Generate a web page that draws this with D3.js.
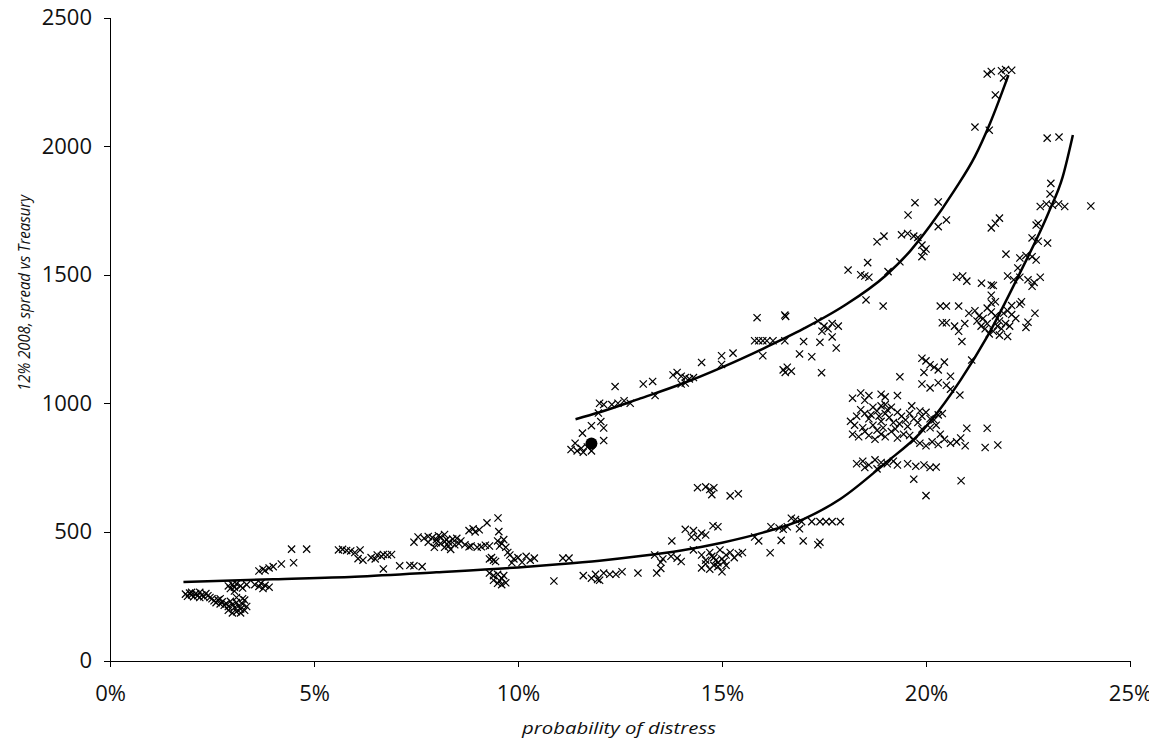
<!DOCTYPE html>
<html>
<head>
<meta charset="utf-8">
<script src="https://cdn.jsdelivr.net/npm/d3@7"></script>
<style>
  body { margin: 0; background: #fff; }
  .axis text { font-family: "Open Sans", "DejaVu Sans", sans-serif; font-size: 22px; fill: #111; }
  .axis path, .axis line { stroke: #000; stroke-width: 1px; shape-rendering: crispEdges; }
  .title { font-family: "Open Sans", "DejaVu Sans", sans-serif; font-style: italic; font-size: 17px; fill: #111; }
</style>
</head>
<body>
<div id="chart"></div>
<script>
// tick labels
var xTicks = [0, 5, 10, 15, 20, 25];
var yTicks = [0, 500, 1000, 1500, 2000, 2500];

// observations: [probability of distress (%), spread (bp)]
var points = [
  // ~2%
  [1.85,258],[1.9,250],[1.95,262],[2.0,255],[2.05,248],[2.1,260],[2.15,252],[2.2,265],[2.25,255],[2.3,248],
  [2.35,260],[2.4,252],[2.45,245],[2.0,265],[2.2,245],
  [2.5,240],[2.55,232],[2.6,225],[2.65,235],[2.7,220],[2.75,228],[2.8,215],[2.85,222],[2.9,210],[2.95,230],
  [3.0,218],[3.05,205],[3.1,225],[3.15,212],[3.2,200],[3.25,220],[3.3,235],[2.9,195],[3.0,185],[3.1,190],
  [3.2,185],[3.3,195],[3.35,210],[2.7,240],[3.1,245],[3.25,240],
  [2.9,290],[2.95,280],[3.0,295],[3.05,285],[3.1,298],[3.2,290],[3.25,282],[3.35,295],[3.05,270],
  [3.55,295],[3.65,288],[3.7,300],[3.8,292],[3.9,285],[3.75,280],
  [3.65,348],[3.75,355],[3.8,350],[3.9,360],[4.0,365],[4.2,375],[4.5,380],[4.45,433],[4.82,433],
  // 5-8%
  [5.6,430],[5.7,432],[5.8,428],[5.9,426],[6.0,420],[6.08,396],[6.2,390],[6.13,430],
  [6.4,400],[6.5,395],[6.55,410],[6.65,405],[6.7,412],[6.8,410],[6.9,412],[6.7,356],[7.1,368],[7.35,370],
  [7.45,368],[7.65,365],
  [7.45,460],[7.55,480],[7.7,475],[7.8,482],[7.9,478],[8.0,470],[8.05,485],[8.1,480],[8.2,490],[8.25,470],
  [8.3,460],[8.4,472],[8.5,475],[8.1,455],[8.2,462],[8.3,445],[8.45,450],[8.55,455],[7.95,440],[8.2,440],
  [8.35,432],[8.0,458],[7.8,460],[8.6,465],
  // 9-11%
  [8.7,450],[8.8,442],[8.85,445],[9.0,440],[9.1,442],[9.2,448],[9.3,445],[8.8,505],[8.9,512],[8.95,500],
  [9.05,508],[9.24,535],[9.51,554],[9.53,501],
  [9.5,465],[9.6,455],[9.65,470],[9.7,440],[9.55,445],
  [9.3,395],[9.4,390],[9.45,385],[9.35,400],
  [9.8,410],[9.9,395],[10.0,400],[10.2,405],[10.3,390],[9.85,380],[10.1,382],[10.4,398],[9.75,420],
  [9.3,340],[9.4,330],[9.5,335],[9.6,320],[9.5,300],[9.6,295],[9.7,302],[9.4,312],[9.55,310],[9.65,330],
  [10.88,309],
  // upper branch
  [11.3,820],[11.45,815],[11.55,825],[11.6,810],[11.7,830],[11.8,815],[11.4,845],[11.58,884],[11.8,913],
  [12.1,855],[12.1,904],[12.03,929],[11.97,962],[12.0,1000],[12.1,995],[12.3,995],[12.45,1000],[12.6,1010],
  [12.75,1000],[12.38,1065],[13.07,1075],[13.3,1085],[13.36,1030],[14.1,1079],
  [13.8,1110],[13.9,1120],[14.0,1105],[14.1,1100],[14.2,1095],[14.3,1100],[14.0,1075],[14.5,1159],
  [14.99,1185],[14.99,1151],[15.27,1195],
  [15.86,1333],[16.54,1343],[16.56,1338],[15.8,1243],[15.9,1243],[16.0,1243],[16.1,1243],[16.25,1243],
  [16.0,1185],[16.54,1243],[16.5,1130],[16.6,1140],[16.7,1125],[16.55,1120],[16.9,1192],[17.0,1240],
  [17.2,1181],[17.44,1119],[17.4,1237],[17.35,1320],[17.5,1300],[17.6,1290],[17.7,1310],[17.45,1280],
  [17.7,1258],[17.8,1215],[17.85,1300],
  [18.53,1402],[18.95,1378],[18.09,1518],[18.4,1500],[18.5,1495],[18.6,1490],[18.57,1547],[19.07,1512],
  [18.8,1628],[18.97,1650],[19.4,1655],[19.55,1660],[19.7,1650],[19.8,1645],[19.56,1732],[19.73,1780],
  [20.3,1783],[19.9,1615],[20.0,1600],[19.95,1590],[19.9,1570],[20.3,1687],[20.5,1713],[19.36,1550],
  [21.5,2280],[21.6,2290],[21.85,2293],[21.95,2298],[22.1,2295],[21.9,2265],[21.7,2199],[21.2,2074],
  [21.55,2062],
  // lower branch 11-18%
  [11.1,398],[11.25,398],[11.6,330],[11.8,320],[11.9,335],[11.95,315],[12.1,340],[12.25,335],[12.4,335],
  [12.55,345],[12.0,312],[12.94,340],[13.4,340],[13.5,358],[13.35,410],[13.55,395],[13.75,405],[13.9,398],
  [14.0,385],[13.5,382],[13.77,465],[14.1,510],[14.3,505],[14.5,495],[14.6,488],[14.25,480],[14.4,478],
  [14.78,524],[14.9,520],
  [14.3,430],[14.5,410],[14.6,390],[14.7,420],[14.8,400],[14.9,380],[15.0,395],[15.1,410],[15.2,420],
  [15.3,400],[15.4,415],[14.5,360],[14.7,355],[14.9,365],[15.0,345],[14.8,370],[15.1,370],[15.5,420],
  [14.95,430],[14.6,375],[14.85,390],[15.05,385],[14.75,405],
  [14.4,672],[14.6,675],[14.7,665],[14.8,672],[14.75,645],[15.2,640],[15.4,648],
  [15.8,480],[15.9,465],[16.18,419],[16.45,467],[16.99,465],[17.4,460],[17.35,450],[16.2,520],[16.4,515],
  [16.6,520],[16.9,512],[16.5,510],[16.7,553],[16.8,548],[16.95,540],[17.2,540],[17.4,540],[17.55,540],
  [17.7,540],[17.9,540],
  // 18-21%
  [18.2,1020],[18.4,1040],[18.6,1030],[18.9,1035],[19.0,1025],[19.3,1030],[18.5,1012],[19.9,1075],
  [20.1,1060],[20.3,1080],[20.5,1070],[20.6,1055],[20.83,1032],
  [18.15,930],[18.25,915],[18.3,950],[18.4,975],[18.5,960],[18.6,940],[18.7,985],[18.8,970],[18.85,950],
  [18.9,930],[19.0,960],[19.05,975],[19.1,945],[19.2,925],[19.3,965],[19.4,950],[19.5,935],[19.6,960],
  [19.7,940],[19.8,925],[19.9,950],[20.0,965],[20.1,940],[20.2,935],[20.3,955],[20.4,960],[18.2,880],
  [18.35,870],[18.5,890],[18.6,875],[18.75,860],[18.9,880],[19.0,870],[19.15,890],[19.3,865],[19.45,880],
  [19.6,875],[19.7,855],[19.85,845],[20.0,835],[20.15,850],[20.3,840],[20.45,860],[20.6,845],[20.75,850],
  [20.85,865],[19.9,900],[20.1,905],[18.95,905],[18.7,915],[19.25,900],[19.55,910],[20.35,880],[18.9,990],
  [19.0,995],[18.45,905],[18.65,955],[19.15,985],[19.35,920],[19.65,990],[19.85,970],[20.25,915],[18.8,895],
  [21.0,903],[21.5,903],[20.96,835],[21.45,828],[21.76,838],
  [18.3,765],[18.45,775],[18.6,760],[18.75,780],[18.9,770],[19.05,765],[19.2,775],[19.3,760],[18.5,750],
  [18.8,745],[19.55,765],[19.75,755],[19.95,760],[20.1,750],[20.25,752],[19.7,705],[20.0,641],[20.86,699],
  [19.36,1103],[19.9,1175],[20.0,1165],[20.1,1150],[20.2,1140],[20.3,1130],[20.45,1160],[20.6,1105],
  [21.12,1168],[19.95,1120],
  // 20-24%
  [20.35,1378],[20.5,1378],[20.8,1378],[20.4,1313],[20.5,1313],[20.75,1490],[20.9,1495],[21.0,1475],
  [20.88,1240],[20.7,1300],[20.8,1280],[20.95,1310],
  [21.05,1350],[21.2,1360],[21.3,1340],[21.4,1330],[21.5,1370],[21.6,1355],[21.7,1340],[21.8,1320],
  [21.9,1350],[22.0,1360],[22.1,1345],[22.2,1330],[21.35,1300],[21.45,1290],[21.55,1270],[21.65,1280],
  [21.75,1300],[21.85,1290],[21.95,1310],[22.05,1300],[21.25,1320],[21.5,1310],[21.6,1390],[21.7,1395],
  [22.1,1380],[22.3,1385],[21.8,1265],[22.0,1260],[21.36,1467],[21.6,1460],[21.65,1458],[21.6,1420],
  [22.0,1495],[22.15,1480],[22.3,1490],[22.5,1480],[22.65,1470],[22.8,1490],[22.6,1455],[22.67,1350],
  [22.5,1315],[22.45,1295],[22.34,1395],[21.96,1580],[22.3,1565],[22.45,1575],[22.6,1570],[22.7,1557],
  [22.25,1526],[22.6,1643],[22.75,1630],[22.98,1623],[22.7,1693],[22.75,1700],[21.6,1682],[21.7,1700],
  [21.8,1720],[22.8,1765],[22.95,1775],[23.1,1770],[23.25,1775],[23.4,1765],[23.04,1814],[23.06,1855],
  [24.04,1767],[22.97,2031],[23.26,2035]
];

// fitted curves
var lowerFit = [
  [1.8,305],[4,316],[6,326],[8,343],[10,362],[11,374],[12,388],[13,406],[14,428],[15,458],[16,497],
  [17,550],[17.9,628],[19,767],[19.85,883],[20.85,1091],[21.5,1259],[22.3,1506],[23,1740],[23.35,1880],
  [23.6,2043]
];
var upperFit = [
  [11.41,938],[12,965],[13,1019],[14,1075],[15,1140],[16,1212],[17,1290],[18,1380],[19,1495],
  [19.6,1590],[20.1,1690],[20.7,1829],[21.2,1960],[21.57,2089],[22.02,2276]
];

// highlighted observation
var marked = [[11.8, 844]];

var width = 1149, height = 744;

var svg = d3.select("#chart")
    .append("svg")
    .attr("width", width)
    .attr("height", height);

var x = d3.scaleLinear().domain([0, 25]).range([110, 1130]);
var y = d3.scaleLinear().domain([0, 2500]).range([660.5, 17.5]);

// axes
svg.append("g")
    .attr("class", "axis")
    .attr("transform", "translate(0," + y(0) + ")")
    .call(d3.axisBottom(x).tickValues(xTicks).tickSize(6).tickSizeOuter(0).tickPadding(19)
        .tickFormat(function (d) { return d + "%"; }));

svg.append("g")
    .attr("class", "axis")
    .attr("transform", "translate(" + x(0) + ",0)")
    .call(d3.axisLeft(y).tickValues(yTicks).tickSize(6).tickSizeOuter(0).tickPadding(12)
        .tickFormat(d3.format("d")));

// axis titles
svg.append("text")
    .attr("class", "title")
    .attr("x", 619)
    .attr("y", 734)
    .attr("text-anchor", "middle")
    .attr("textLength", 194)
    .attr("lengthAdjust", "spacingAndGlyphs")
    .text("probability of distress");

svg.append("text")
    .attr("class", "title")
    .style("font-size", "16px")
    .attr("transform", "translate(30,293) rotate(-90)")
    .attr("text-anchor", "middle")
    .attr("textLength", 196)
    .attr("lengthAdjust", "spacingAndGlyphs")
    .text("12% 2008, spread vs Treasury");

// scatter crosses
var s = 3.6;
svg.append("g")
    .selectAll("path")
    .data(points)
    .enter()
    .append("path")
    .attr("transform", function (d) { return "translate(" + x(d[0]) + "," + y(d[1]) + ")"; })
    .attr("d", "M" + (-s) + "," + (-s) + "L" + s + "," + s + "M" + (-s) + "," + s + "L" + s + "," + (-s))
    .attr("stroke", "#000")
    .attr("stroke-width", 1.2)
    .attr("fill", "none");

// fitted curves
var line = d3.line()
    .x(function (d) { return x(d[0]); })
    .y(function (d) { return y(d[1]); })
    .curve(d3.curveMonotoneX);

svg.selectAll(".fit")
    .data([lowerFit, upperFit])
    .enter()
    .append("path")
    .attr("class", "fit")
    .attr("d", line)
    .attr("fill", "none")
    .attr("stroke", "#000")
    .attr("stroke-width", 2.5);

svg.selectAll(".marked")
    .data(marked)
    .enter()
    .append("circle")
    .attr("class", "marked")
    .attr("cx", function (d) { return x(d[0]); })
    .attr("cy", function (d) { return y(d[1]); })
    .attr("r", 6)
    .attr("fill", "#000");
</script>
</body>
</html>
